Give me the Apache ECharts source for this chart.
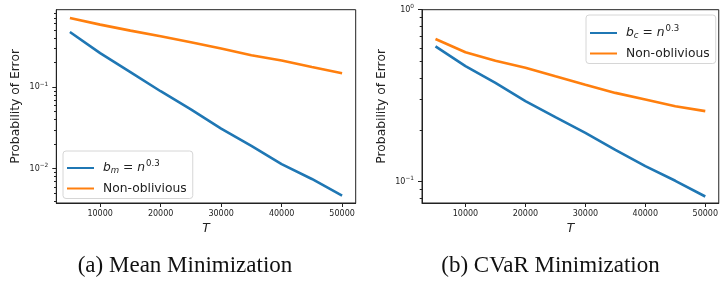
<!DOCTYPE html>
<html>
<head>
<meta charset="utf-8">
<script src="https://cdn.jsdelivr.net/npm/echarts@6/dist/echarts.min.js"></script>
<style>
  html, body { margin: 0; padding: 0; background: #fff; }
  #chart { width: 721px; height: 282px; }
</style>
</head>
<body>
<div id="chart"></div>
<script>
// values
const steps = [5000, 10000, 15000, 20000, 25000, 30000, 35000, 40000, 45000, 50000]
const meanOblivious = [0.475, 0.261, 0.153, 0.0891, 0.0535, 0.031, 0.019, 0.0114, 0.00749, 0.00468]
const meanNonOblivious = [0.705, 0.584, 0.493, 0.421, 0.355, 0.297, 0.246, 0.212, 0.177, 0.148]
const cvarOblivious = [0.612, 0.470, 0.375, 0.294, 0.237, 0.192, 0.153, 0.123, 0.101, 0.0818]
const cvarNonOblivious = [0.675, 0.565, 0.505, 0.460, 0.410, 0.366, 0.328, 0.300, 0.274, 0.257]

const xTicks = [10000, 20000, 30000, 40000, 50000]
const meanMajorTicks = [0.01, 0.1]
const meanMinorTicks = [0.004, 0.005, 0.006, 0.007, 0.008, 0.009,
  0.02, 0.03, 0.04, 0.05, 0.06, 0.07, 0.08, 0.09,
  0.2, 0.3, 0.4, 0.5, 0.6, 0.7, 0.8]
const cvarMajorTicks = [0.1, 1]
const cvarMinorTicks = [0.08, 0.09, 0.2, 0.3, 0.4, 0.5, 0.6, 0.7, 0.8, 0.9]

const captions = ['(a) Mean Minimization', '(b) CVaR Minimization']
const legendNames = {
  bm: '{i|b}{sub|m}{t| = }{i|n}{sup|0.3}',
  bc: '{i|b}{sub|c}{t| = }{i|n}{sup|0.3}',
  nm: '{t|Non-oblivious}',
  nc: '{t|Non-oblivious}'
}

const BLUE = '#1f77b4'
const ORANGE = '#ff7f0e'
const INK = '#222'
const FONT = 'DejaVu Sans'

const gridTop = 9.7
const gridHeight = 193.3
const gridWidth = 299.4
const gridLefts = [56.3, 422]

const supMap = { '-2': '−2', '-1': '−1', '0': '0' }

function logLabel(v) {
  const p = Math.round(Math.log10(v))
  return '{b|10}{s|' + supMap[String(p)] + '}'
}

const tickRich = {
  b: { fontSize: 8, fontFamily: FONT, color: INK },
  s: { fontSize: 5.8, fontFamily: FONT, color: INK, padding: [0, 0, 6, 0] }
}

const legendRich = {
  i: { fontSize: 12.3, fontFamily: FONT, fontStyle: 'italic', color: INK },
  t: { fontSize: 12.3, fontFamily: FONT, color: INK },
  sub: { fontSize: 8.6, fontFamily: FONT, fontStyle: 'italic', color: INK, padding: [6, 0, 0, 0] },
  sup: { fontSize: 8.6, fontFamily: FONT, color: INK, padding: [0, 0, 9, 1] }
}

function xAxisFor(gridIndex) {
  return {
    type: 'value',
    gridIndex,
    min: 2750,
    max: 52250,
    name: 'T',
    nameLocation: 'middle',
    nameGap: 14,
    nameTextStyle: { fontFamily: FONT, fontStyle: 'italic', fontSize: 12.3, color: INK },
    axisLine: { show: true, lineStyle: { color: INK, width: 1 } },
    axisTick: { customValues: xTicks, length: 4, lineStyle: { color: INK } },
    axisLabel: {
      customValues: xTicks,
      formatter: (v) => String(v),
      fontSize: 8,
      fontFamily: FONT,
      color: INK,
      margin: 7
    },
    splitLine: { show: false }
  }
}

function majorYAxis(gridIndex, min, max, ticks) {
  return {
    type: 'log',
    logBase: 10,
    gridIndex,
    position: 'left',
    min,
    max,
    name: 'Probability of Error',
    nameLocation: 'middle',
    nameGap: 34,
    nameTextStyle: { fontFamily: FONT, fontSize: 12.3, color: INK },
    axisLine: { show: true, lineStyle: { color: INK, width: 1 } },
    axisTick: { customValues: ticks, length: 4, lineStyle: { color: INK } },
    axisLabel: { customValues: ticks, formatter: logLabel, rich: tickRich, margin: 8 },
    splitLine: { show: false },
    minorTick: { show: false }
  }
}

function minorYAxis(gridIndex, min, max, ticks) {
  return {
    type: 'log',
    logBase: 10,
    gridIndex,
    position: 'left',
    min,
    max,
    axisLine: { show: false },
    axisTick: { customValues: ticks, length: 2.3, lineStyle: { color: INK } },
    axisLabel: { show: false },
    splitLine: { show: false }
  }
}

function lineSeries(name, xIdx, yIdx, values, color) {
  return {
    type: 'line',
    name,
    xAxisIndex: xIdx,
    yAxisIndex: yIdx,
    data: steps.map((t, i) => [t, values[i]]),
    symbol: 'none',
    smooth: false,
    lineStyle: { width: 2.6, color },
    itemStyle: { color },
    emphasis: { disabled: true }
  }
}

function legendFor(names, left, top, padding) {
  return {
    orient: 'vertical',
    left,
    top,
    data: names,
    padding,
    itemWidth: 27,
    itemHeight: 14,
    itemGap: 7,
    backgroundColor: '#fff',
    borderColor: '#d6d6d6',
    borderWidth: 1,
    borderRadius: 3,
    formatter: (n) => legendNames[n],
    textStyle: { fontSize: 12.3, fontFamily: FONT, color: INK, padding: [0, 0, 0, 4], rich: legendRich },
    itemStyle: { opacity: 0 },
    selectedMode: false
  }
}

const chart = echarts.init(document.getElementById('chart'), null, { renderer: 'canvas' })

chart.setOption({
  animation: false,
  backgroundColor: '#fff',
  title: captions.map((text, i) => ({
    text,
    left: [185, 550.5][i],
    top: 254,
    textAlign: 'center',
    padding: 0,
    textStyle: { fontFamily: 'Liberation Serif', fontWeight: 'normal', fontSize: 23, color: '#111' }
  })),
  grid: gridLefts.map((left) => ({
    left,
    top: gridTop,
    width: gridWidth,
    height: gridHeight,
    show: true,
    borderColor: INK,
    borderWidth: 1,
    backgroundColor: '#fff'
  })),
  xAxis: [xAxisFor(0), xAxisFor(1)],
  yAxis: [
    majorYAxis(0, 0.0038, 0.89, meanMajorTicks),
    minorYAxis(0, 0.0038, 0.89, meanMinorTicks),
    majorYAxis(1, 0.075, 1, cvarMajorTicks),
    minorYAxis(1, 0.075, 1, cvarMinorTicks)
  ],
  legend: [
    legendFor(['bm', 'nm'], 63, 151, [8, 6, 4, 3]),
    legendFor(['bc', 'nc'], 586, 15, [9, 6, 4, 3])
  ],
  series: [
    lineSeries('bm', 0, 0, meanOblivious, BLUE),
    lineSeries('nm', 0, 0, meanNonOblivious, ORANGE),
    lineSeries('bc', 1, 2, cvarOblivious, BLUE),
    lineSeries('nc', 1, 2, cvarNonOblivious, ORANGE)
  ]
})
</script>
</body>
</html>
